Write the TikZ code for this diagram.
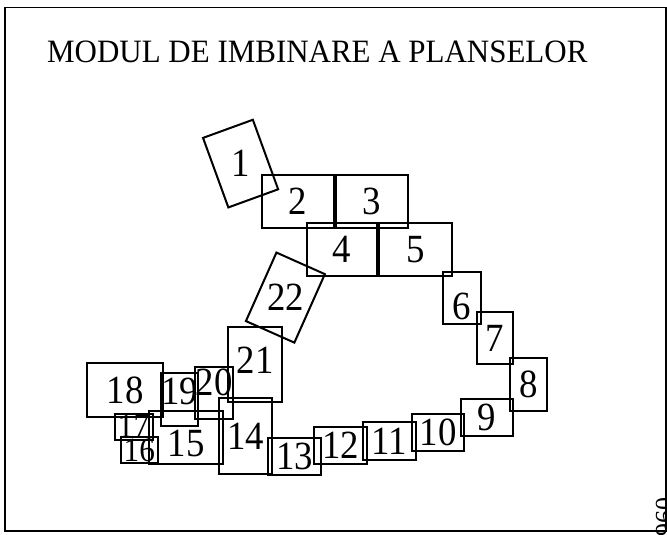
\documentclass[tikz,border=0pt]{standalone}
\usepackage{fontspec}
\setmainfont{Liberation Serif}
\newfontfamily\cifre[FakeStretch=0.92]{Liberation Serif}
\newfontfamily\titlufont[FakeStretch=0.95]{Liberation Serif}
\tikzset{%
  % Specifications for style of nodes:
       plansa/.style = {rectangle, draw=black, line width=2pt, inner sep=0pt,
                        text centered, font=\cifre\fontsize{40}{42}\selectfont},
       mica/.style = {plansa, font=\cifre\fontsize{34}{36}\selectfont},
       marime/.style 2 args = {minimum width=#1pt, minimum height=#2pt},
       numar/.style = {inner sep=0pt, font=\cifre\fontsize{40}{42}\selectfont},
       urcat/.style = {text depth=#1pt},   % text higher than centre
       coborat/.style = {text height=#1pt}, % text lower than centre
}

\begin{document}
\begin{tikzpicture}[x=1pt, y=-1pt]
  \useasboundingbox (0,0) rectangle (667,535);
  % frame and title
  \draw[line width=1.8pt] (5,7.5) rectangle (666,531);
  \node (titlu) [anchor=base west, inner sep=0pt, font=\titlufont\fontsize{32.6}{35}\selectfont]
        at (47,62.5) {MODUL DE IMBINARE A PLANSELOR};
  \node (cod) [anchor=base west, inner sep=0pt, rotate=90, font=\fontsize{26}{28}\selectfont]
        at (673,537) {960};

  % Specification of sheets (position, size)
  \node (p1)  [plansa, marime={53}{74}, rotate=20] at (240.6,163.6) {};
  \node (n1)  [numar] at (p1.center) {1};
  \node (p2)  [plansa, marime={72}{53}] at (298,201.5) {2};
  \node (p3)  [plansa, marime={72}{53}] at (372,201.5) {3};
  \node (p4)  [plansa, marime={70}{53}] at (342,249.5) {4};
  \node (p5)  [plansa, marime={73}{53}] at (415.5,249.5) {5};
  \node (p6)  [plansa, marime={38}{52}, coborat=43] at (462,298) {6};
  \node (p7)  [plansa, marime={36}{52}] at (495,338) {7};
  \node (p8)  [plansa, marime={37}{53}] at (528.5,384.5) {8};
  \node (p9)  [plansa, marime={52}{37}] at (487,417.5) {9};
  \node (p10) [plansa, marime={52}{37}] at (438,432.5) {10};
  \node (p11) [plansa, marime={53}{38}] at (389.5,441) {11};
  \node (p12) [plansa, marime={53}{37}] at (340.5,445.5) {12};
  \node (p13) [plansa, marime={53}{37}] at (294.5,456.5) {13};
  \node (p14) [plansa, marime={53}{76}] at (245.5,436) {14};
  \node (p15) [plansa, marime={74}{53}, coborat=38] at (186,437.5) {15};
  \node (p17) [mica, marime={38}{26}] at (133.5,426.5) {17};
  \node (p16) [mica, marime={37.5}{26}] at (139.3,450.4) {16};
  \node (p18) [plansa, marime={76}{54}] at (125,390) {18};
  \node (p19) [plansa, marime={37}{53}, urcat=17] at (179.5,399.5) {19};
  \node (p20) [plansa, marime={38}{52}, urcat=21] at (214,393) {20};
  \node (p21) [plansa, marime={54}{75}, urcat=9] at (255,364.5) {21};
  \node (p22) [plansa, marime={53}{75}, rotate=-24] at (285.4,297.6) {};
  \node (n22) [numar] at (p22.center) {22};
\end{tikzpicture}
\end{document}
